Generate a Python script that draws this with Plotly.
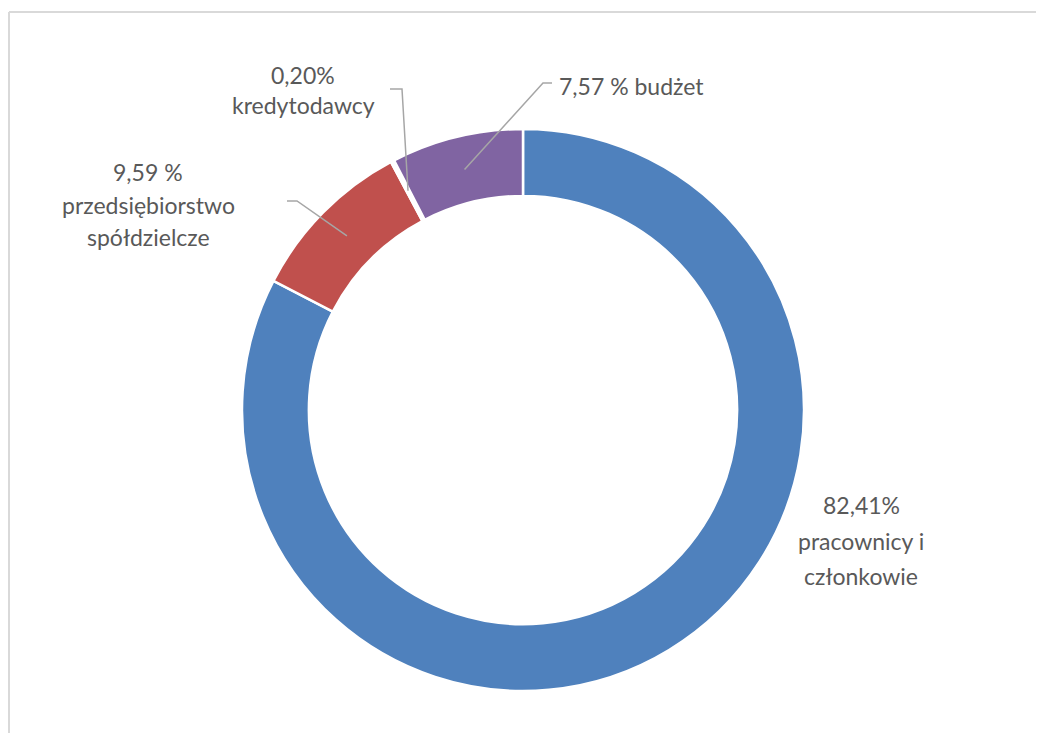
import math
import plotly.graph_objects as go

# page body has an 8px margin: shift all coordinates by it
OFF = 8
W, H = 1044, 733

# ---- data ----
labels = ["pracownicy i członkowie", "przedsiębiorstwo spółdzielcze", "kredytodawcy", "budżet"]
values = [82.41, 9.59, 0.20, 7.57]
label_lines = [["82,41%", "pracownicy i", "członkowie"],
               ["9,59 %", "przedsiębiorstwo", "spółdzielcze"],
               ["0,20%", "kredytodawcy"],
               ["7,57 % budżet"]]
colors = ["#4F81BD", "#C0504D", "#FFFFFF", "#8064A2"]

# ---- layout geometry (window pixels) ----
cx, cy, R = 523, 410, 281
hole = 0.762
r_mid = R * (1 + hole) / 2

def px(x):
    return (x - OFF) / W

def py(y):
    return 1 - (y - OFF) / H

fig = go.Figure(go.Pie(
    labels=labels, values=values, sort=False, direction="clockwise", rotation=0,
    hole=hole, textinfo="none", hoverinfo="label+percent",
    marker=dict(colors=colors, line=dict(color="white", width=2.5)),
    domain=dict(x=[px(cx - R), px(cx + R)], y=[py(cy + R), py(cy - R)]),
    showlegend=False,
))

# label placement (pixel centers of each text line)
label_pos = [
    dict(x=861, ys=[505, 541, 576], anchor="center"),
    dict(x=148, ys=[172, 205, 237], anchor="center"),
    dict(x=303, ys=[75, 105], anchor="center"),
    dict(x=557, ys=[86], anchor="left"),
]
# leader line elbows (pixel), None = no leader
elbows = [None, [(287, 201), (297, 201)], [(390, 89), (402, 89)], [(552, 83), (543, 83)]]

total = sum(values)
cum = 0
annotations = []
shapes = []
font = dict(family="Lato, Carlito, sans-serif", size=23, color="#595959")
for i, v in enumerate(values):
    mid = (cum + v / 2) / total * 2 * math.pi
    cum += v
    ex = cx + r_mid * math.sin(mid)
    ey = cy - r_mid * math.cos(mid)
    lp = label_pos[i]
    for line, y in zip(label_lines[i], lp["ys"]):
        annotations.append(dict(x=px(lp["x"]), y=py(y), xref="paper", yref="paper",
                                text=line, showarrow=False, xanchor=lp["anchor"],
                                yanchor="middle", font=font))
    if elbows[i]:
        pts = elbows[i] + [(ex, ey)]
        path = "M " + " L ".join(f"{px(a)},{py(b)}" for a, b in pts)
        shapes.append(dict(type="path", path=path, xref="paper", yref="paper",
                           line=dict(color="#A6A6A6", width=1.5)))

# chart frame (top and left edges visible)
shapes.append(dict(type="line", xref="paper", yref="paper", x0=px(9), x1=px(1044 + 20),
                   y0=py(12), y1=py(12), line=dict(color="#D9D9D9", width=2)))
shapes.append(dict(type="line", xref="paper", yref="paper", x0=px(9), x1=px(9),
                   y0=py(12), y1=py(733 + 20), line=dict(color="#D9D9D9", width=2)))

fig.update_layout(width=W, height=H, margin=dict(l=0, r=0, t=0, b=0),
                  paper_bgcolor="white", plot_bgcolor="white",
                  annotations=annotations, shapes=shapes)

fig.write_html("out.html")
